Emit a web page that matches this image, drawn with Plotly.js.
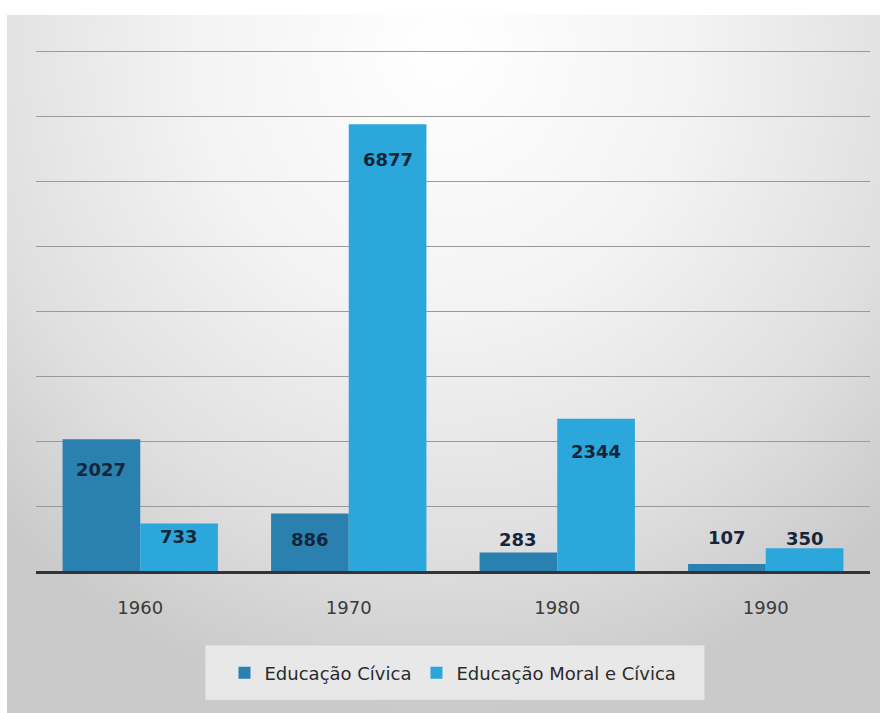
<!DOCTYPE html>
<html>
<head>
<meta charset="utf-8">
<script src="https://cdn.plot.ly/plotly-3.0.1.min.js"></script>
<style>
  html, body { margin:0; padding:0; background:#ffffff; }
  #bg { position:absolute; left:7px; top:15px; width:873px; height:698px;
        background: radial-gradient(ellipse 72% 95% at 50% 5%, #ffffff 0%, #f3f3f3 40%, #dfdfdf 75%, #cacaca 100%); }
  #chart { position:absolute; left:0; top:0; width:885px; height:713px; }
</style>
</head>
<body>
<div id="bg"></div>
<div id="chart"></div>
<script>
const decades = ['1960', '1970', '1980', '1990'];
const civica = [2027, 886, 283, 107];
const moralCivica = [733, 6877, 2344, 350];
const seriesNames = ['Educação Cívica', 'Educação Moral e Cívica'];

// label placement (styling): pixel offset of each label from its bar top
const civicaLabelShift = [-30, -26, 13, 27];
const moralLabelShift = [-13, -35, -33, 10];

const darkBlue = '#2a80ae';
const lightBlue = '#2ca7dc';
const FAM = '"DejaVu Sans", sans-serif';
const labelFont = {family: FAM, size: 18, color: '#16263a', weight: 'bold'};

const traces = [
  {type:'bar', name: seriesNames[0], x: decades, y: civica, marker:{color: darkBlue}, hoverinfo:'skip'},
  {type:'bar', name: seriesNames[1], x: decades, y: moralCivica, marker:{color: lightBlue}, hoverinfo:'skip'}
];

const bargap = 0.255;
const plotW = 834;
const catW = plotW / decades.length;
const barW = catW * (1 - bargap) / 2;

function makeAnn(vals, shifts, side) {
  return vals.map((v, i) => ({
    x: i, y: v, xref:'x', yref:'y', text: String(v), showarrow:false,
    xshift: side * barW / 2, yshift: shifts[i], yanchor:'middle', font: labelFont
  }));
}

const annotations = makeAnn(civica, civicaLabelShift, -1).concat(makeAnn(moralCivica, moralLabelShift, 1));

const layout = {
  width: 885, height: 713,
  margin: {l: 36, r: 15, t: 50, b: 142},
  paper_bgcolor: 'rgba(0,0,0,0)',
  plot_bgcolor: 'rgba(0,0,0,0)',
  barmode: 'group',
  bargap: bargap,
  bargroupgap: 0,
  showlegend: true,
  legend: {orientation:'h', x:0.5, xanchor:'center', y:-0.196, yanchor:'middle',
           bgcolor:'rgba(0,0,0,0)', font:{family:FAM, size:18, color:'#2b2b2b'},
           itemwidth: 30, tracegroupgap: 0},
  xaxis: {type:'category', range:[-0.5, 3.5], autorange:false, showgrid:false, showline:true, linecolor:'#333333', linewidth:3,
          ticks:'outside', ticklen:18, tickcolor:'rgba(0,0,0,0)',
          tickfont:{family:FAM, size:18, color:'#3a3a3a'},
          fixedrange:true},
  yaxis: {range:[0, 8020], autorange:false, tick0:0, dtick:1000, showgrid:true, gridcolor:'#9a9a9a', gridwidth:1,
          showticklabels:false, zeroline:false, showline:false, fixedrange:true},
  annotations: annotations,
  shapes: [{type:'rect', xref:'paper', yref:'paper', x0:0.2026, x1:0.802, y0:-0.248, y1:-0.142,
            fillcolor:'rgba(236,236,236,0.85)', line:{color:'rgba(200,200,200,0.6)', width:1}, layer:'below'}]
};

Plotly.newPlot('chart', traces, layout, {displayModeBar:false, staticPlot:true});
</script>
</body>
</html>
